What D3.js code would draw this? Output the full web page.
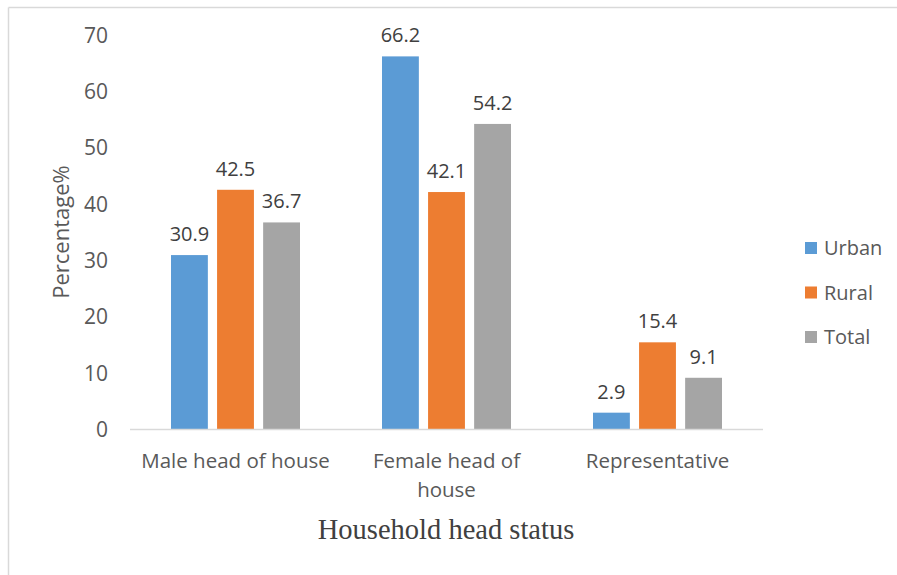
<!DOCTYPE html>
<html>
<head>
<meta charset="utf-8">
<script src="https://cdn.jsdelivr.net/npm/d3@7"></script>
<style>
  html, body { margin: 0; padding: 0; background: #fff; }
  svg { display: block; }
</style>
</head>
<body>
<svg id="chart" width="897" height="575"></svg>
<script>
// Household head status by residence
const categories = ["Male head of house", "Female head of house", "Representative"];
const categoryLines = [["Male head of house"], ["Female head of", "house"], ["Representative"]];
const seriesNames = ["Urban", "Rural", "Total"];
const urban = [30.9, 66.2, 2.9];
const rural = [42.5, 42.1, 15.4];
const total = [36.7, 54.2, 9.1];
const yTicks = [0, 10, 20, 30, 40, 50, 60, 70];
const colors = ["#5b9bd5", "#ed7d31", "#a5a5a5"];

const seriesValues = [urban, rural, total];
const font = "'Open Sans', 'Noto Sans', sans-serif";

const svg = d3.select("#chart");

// chart frame (top and left edges)
svg.append("line").attr("x1", 8.5).attr("x2", 897).attr("y1", 7.5).attr("y2", 7.5)
  .attr("stroke", "#d9d9d9").attr("stroke-width", 1.5);
svg.append("line").attr("x1", 8.5).attr("x2", 8.5).attr("y1", 7.5).attr("y2", 575)
  .attr("stroke", "#d9d9d9").attr("stroke-width", 1.5);

const plot = { left: 130, right: 763, top: 35, bottom: 429 };

const x0 = d3.scaleBand().domain(categories).range([plot.left, plot.right]).paddingInner(0).paddingOuter(0);
const x1 = d3.scaleBand().domain(seriesNames).range([41, x0.bandwidth() - 41]).paddingInner(0.2).paddingOuter(0);
const y = d3.scaleLinear().domain([0, 70]).range([plot.bottom, plot.top]);

// y tick labels
const yAxis = d3.axisLeft(y).tickValues(yTicks).tickSize(0).tickPadding(0);
const yg = svg.append("g").attr("transform", `translate(${plot.left - 22},0)`).call(yAxis);
yg.select(".domain").remove();
yg.selectAll("text").attr("font-family", font).attr("font-size", 21).attr("fill", "#595959")
  .attr("text-anchor", "end").attr("dy", "0.35em");

// bars
const groups = svg.append("g").selectAll("g").data(categories).join("g")
  .attr("transform", d => `translate(${x0(d)},0)`);

groups.each(function (cat, ci) {
  const g = d3.select(this);
  const rows = seriesNames.map((s, si) => ({ s, si, v: seriesValues[si][ci] }));
  g.selectAll("rect").data(rows).join("rect")
    .attr("x", d => x1(d.s))
    .attr("y", d => y(d.v))
    .attr("width", x1.bandwidth())
    .attr("height", d => y(0) - y(d.v))
    .attr("fill", d => colors[d.si]);
  g.selectAll("text.val").data(rows).join("text")
    .attr("class", "val")
    .attr("x", d => x1(d.s) + x1.bandwidth() / 2)
    .attr("y", d => y(d.v) - 14)
    .attr("text-anchor", "middle")
    .attr("font-family", font).attr("font-size", 20).attr("fill", "#404040")
    .text(d => d.v.toFixed(1));
});

// baseline
svg.append("line").attr("x1", plot.left).attr("x2", plot.right)
  .attr("y1", plot.bottom + 0.5).attr("y2", plot.bottom + 0.5)
  .attr("stroke", "#d9d9d9").attr("stroke-width", 1.5);

// category labels
const xAxis = d3.axisBottom(x0).tickSize(0).tickFormat("");
const xg = svg.append("g").attr("transform", `translate(0,${plot.bottom})`).call(xAxis);
xg.select(".domain").remove();
xg.selectAll(".tick").each(function (d, i) {
  const t = d3.select(this).append("text")
    .attr("text-anchor", "middle")
    .attr("font-family", font).attr("font-size", 20.5).attr("fill", "#595959");
  categoryLines[i].forEach((line, li) => {
    t.append("tspan").attr("x", 0).attr("y", 39 + li * 29).text(line);
  });
});

// axis titles
svg.append("text")
  .attr("transform", `translate(69,${(plot.top + plot.bottom) / 2}) rotate(-90)`)
  .attr("text-anchor", "middle")
  .attr("font-family", font).attr("font-size", 22).attr("fill", "#595959")
  .text("Percentage%");

svg.append("text")
  .attr("x", 446)
  .attr("y", 539)
  .attr("text-anchor", "middle")
  .attr("font-family", "'Liberation Serif', 'Times New Roman', serif")
  .attr("font-size", 28.5).attr("fill", "#404040")
  .text("Household head status");

// legend
const legend = svg.append("g").selectAll("g").data(seriesNames).join("g")
  .attr("transform", (d, i) => `translate(805,${248 + i * 44.5})`);
legend.append("rect").attr("x", 0).attr("y", -6).attr("width", 12).attr("height", 12)
  .attr("fill", (d, i) => colors[i]);
legend.append("text").attr("x", 19).attr("y", 0).attr("dy", "0.35em")
  .attr("font-family", font).attr("font-size", 20).attr("fill", "#595959")
  .text(d => d);
</script>
</body>
</html>
